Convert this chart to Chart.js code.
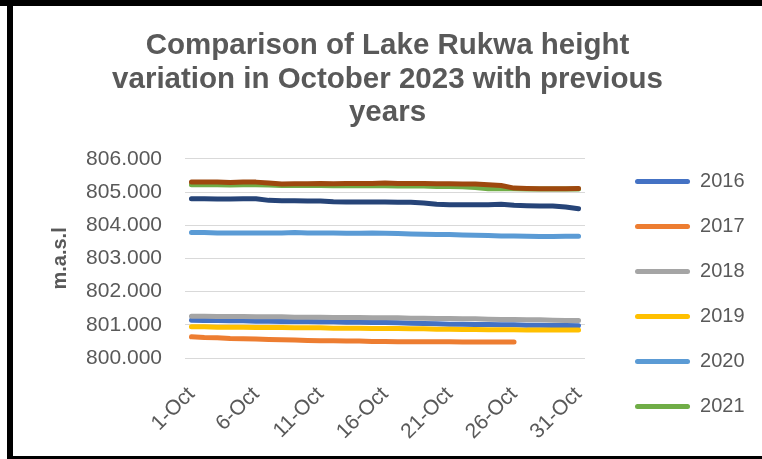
<!DOCTYPE html>
<html>
<head>
<meta charset="utf-8">
<script src="https://cdn.jsdelivr.net/npm/chart.js@4"></script>
<style>
  html, body { margin: 0; padding: 0; background: #fff; }
  body { width: 762px; height: 459px; position: relative; overflow: hidden; }
  .bar-top { position: absolute; left: 0; top: 0; width: 762px; height: 6px; background: #000; }
  .bar-left { position: absolute; left: 7px; top: 0; width: 6px; height: 459px; background: #000; }
  .bar-bottom { position: absolute; left: 7px; top: 456px; width: 755px; height: 3px; background: #000; }
  #wrap { position: absolute; left: 13px; top: 6px; width: 749px; height: 450px; }
</style>
</head>
<body>
<div class="bar-top"></div>
<div class="bar-left"></div>
<div class="bar-bottom"></div>
<div id="wrap"><canvas id="lakeChart"></canvas></div>
<script>
// ── data ──
const days = [];
for (let d = 1; d <= 31; d++) days.push(d + '-Oct');

const yearNames = ['2016', '2017', '2018', '2019', '2020', '2021', '2022', '2023'];
const yTicks = [800, 801, 802, 803, 804, 805, 806];

const h2016 = [801.14, 801.13, 801.13, 801.12, 801.12, 801.11, 801.11, 801.10, 801.10, 801.10,
    801.09, 801.09, 801.08, 801.08, 801.07, 801.07, 801.06, 801.05, 801.04, 801.03,
    801.02, 801.02, 801.01, 801.01, 801.00, 801.00, 800.99, 800.99, 800.98, 800.98, 800.97];
const h2017 = [800.64, 800.62, 800.61, 800.59, 800.58, 800.57, 800.56, 800.55, 800.54, 800.53,
    800.52, 800.52, 800.51, 800.51, 800.50, 800.50, 800.49, 800.49, 800.49, 800.49,
    800.49, 800.48, 800.48, 800.48, 800.48, 800.48, null, null, null, null, null];
const h2018 = [801.26, 801.26, 801.25, 801.25, 801.25, 801.24, 801.24, 801.24, 801.23, 801.23,
    801.23, 801.22, 801.22, 801.22, 801.21, 801.21, 801.21, 801.20, 801.20, 801.19,
    801.19, 801.18, 801.18, 801.17, 801.16, 801.16, 801.15, 801.15, 801.14, 801.13, 801.13];
const h2019 = [800.94, 800.94, 800.93, 800.93, 800.93, 800.92, 800.92, 800.92, 800.91, 800.91,
    800.91, 800.90, 800.90, 800.90, 800.89, 800.89, 800.89, 800.88, 800.88, 800.87,
    800.87, 800.86, 800.86, 800.85, 800.85, 800.85, 800.84, 800.84, 800.84, 800.84, 800.84];
const h2020 = [803.78, 803.78, 803.77, 803.77, 803.77, 803.77, 803.77, 803.77, 803.78, 803.77,
    803.77, 803.77, 803.76, 803.76, 803.77, 803.76, 803.75, 803.74, 803.73, 803.72,
    803.72, 803.71, 803.70, 803.69, 803.68, 803.68, 803.67, 803.66, 803.66, 803.67, 803.67];
const h2021 = [805.22, 805.22, 805.22, 805.21, 805.22, 805.22, 805.21, 805.20, 805.20, 805.20,
    805.20, 805.19, 805.19, 805.19, 805.19, 805.19, 805.18, 805.18, 805.18, 805.17,
    805.17, 805.16, 805.14, 805.10, 805.10, 805.10, 805.09, 805.09, 805.09, 805.09, 805.09];
const h2022 = [804.80, 804.80, 804.79, 804.79, 804.80, 804.80, 804.75, 804.74, 804.74, 804.73,
    804.73, 804.71, 804.70, 804.70, 804.70, 804.70, 804.69, 804.69, 804.67, 804.63,
    804.62, 804.62, 804.62, 804.62, 804.63, 804.60, 804.59, 804.58, 804.58, 804.55, 804.50];
const h2023 = [805.30, 805.30, 805.30, 805.29, 805.30, 805.30, 805.27, 805.24, 805.25, 805.25,
    805.26, 805.25, 805.26, 805.26, 805.26, 805.27, 805.26, 805.26, 805.26, 805.25,
    805.25, 805.24, 805.24, 805.22, 805.20, 805.12, 805.11, 805.10, 805.10, 805.10, 805.11];

const seriesValues = [h2016, h2017, h2018, h2019, h2020, h2021, h2022, h2023];
const seriesColors = ['#4472C4', '#ED7D31', '#A5A5A5', '#FFC000', '#5B9BD5', '#70AD47', '#264478', '#9E480E'];
const legendCount = 6; // only 2016-2021 fit in the legend box

// ── chart ──
const txt = '#595959';
const baseFont = 'Liberation Sans, Arial, sans-serif';

const datasets = seriesValues.map((vals, i) => ({
    label: yearNames[i],
    data: vals,
    borderColor: seriesColors[i],
    backgroundColor: seriesColors[i],
    borderWidth: 5,
    borderCapStyle: 'round',
    borderJoinStyle: 'round',
    pointRadius: 0,
    tension: 0,
    order: seriesValues.length - i   // later years drawn on top
}));

// push the legend a bit away from the plot area
const legendGap = {
    id: 'legendGap',
    afterLayout(chart) {
        if (chart.legend) {
            chart.legend.left += 25;
            chart.legend.right += 25;
        }
    }
};

new Chart(document.getElementById('lakeChart'), {
    type: 'line',
    data: { labels: days, datasets },
    plugins: [legendGap],
    options: {
        responsive: true,
        maintainAspectRatio: false,
        animation: false,
        layout: { padding: { left: 32.5, right: 32.5, top: 0, bottom: 0 } },
        plugins: {
            title: {
                display: true,
                text: ['Comparison of Lake Rukwa height', 'variation in October 2023 with previous', 'years'],
                color: txt,
                font: { family: baseFont, size: 29.5, weight: 'bold', lineHeight: 1.14 },
                padding: { top: 23, bottom: 29 }
            },
            legend: {
                position: 'right',
                align: 'start',
                title: { display: true, text: '', font: { size: 10, lineHeight: 1 }, padding: { top: 130.5, bottom: 0 } },
                labels: {
                    color: txt,
                    font: { family: baseFont, size: 20 },
                    boxWidth: 55,
                    boxHeight: 5,
                    useBorderRadius: true,
                    borderRadius: 2.5,
                    padding: 25,
                    filter: item => item.datasetIndex < legendCount,
                    sort: (a, b) => a.datasetIndex - b.datasetIndex,
                    generateLabels: chart => Chart.defaults.plugins.legend.labels.generateLabels(chart)
                        .map(item => Object.assign(item, { lineWidth: 0 }))
                }
            },
            tooltip: { enabled: false }
        },
        scales: {
            x: {
                offset: true,
                afterFit: s => { s.height = 98; },
                grid: { display: false },
                border: { display: false },
                ticks: {
                    autoSkip: false,
                    minRotation: 45,
                    maxRotation: 45,
                    padding: 16,
                    color: txt,
                    font: { family: baseFont, size: 21 },
                    callback: (v, i) => (i % 5 === 0 ? days[i] : '')
                }
            },
            y: {
                min: 800,
                max: 806,
                afterFit: s => { s.width = 139.5; },
                afterBuildTicks: s => { s.ticks = yTicks.map(v => ({ value: v })); },
                grid: { color: '#D9D9D9', lineWidth: 1, drawTicks: false },
                border: { display: false },
                ticks: {
                    padding: 23,
                    color: txt,
                    font: { family: baseFont, size: 21 },
                    callback: v => v.toFixed(3)
                },
                title: {
                    display: true,
                    text: 'm.a.s.l',
                    color: txt,
                    font: { family: baseFont, size: 20, weight: 'bold' },
                    padding: { top: 2.5, bottom: 0 }
                }
            }
        }
    }
});
</script>
</body>
</html>
